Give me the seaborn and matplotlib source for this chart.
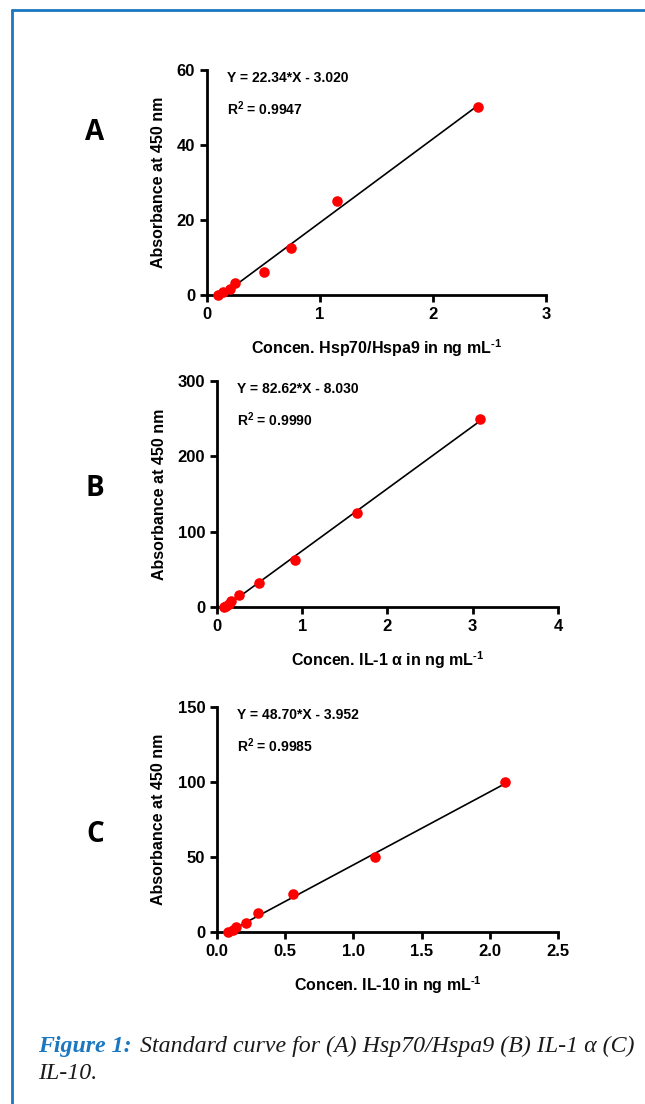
import numpy as np
import pandas as pd
import seaborn as sns
import matplotlib.pyplot as plt
from matplotlib.lines import Line2D

sns.set_style("ticks")
plt.rcParams['font.family'] = ['Liberation Sans', 'DejaVu Sans']
plt.rcParams['font.weight'] = 'bold'
plt.rcParams['text.color'] = 'black'
plt.rcParams['axes.labelcolor'] = 'black'
plt.rcParams['axes.edgecolor'] = 'black'
plt.rcParams['xtick.color'] = 'black'
plt.rcParams['ytick.color'] = 'black'
plt.rcParams['mathtext.fontset'] = 'custom'
plt.rcParams['mathtext.rm'] = 'Liberation Sans:bold'
plt.rcParams['mathtext.it'] = 'Liberation Sans:bold'
plt.rcParams['mathtext.bf'] = 'Liberation Sans:bold'

# Panel A - Hsp70/Hspa9
conc_a = [0.10, 0.14, 0.20, 0.25, 0.50, 0.74, 1.15, 2.40]
abs_a = [0, 0.78, 1.56, 3.125, 6.25, 12.5, 25, 50]
fit_a = (22.34, -3.020, "0.9947")

# Panel B - IL-1 alpha
conc_b = [0.08, 0.11, 0.14, 0.17, 0.26, 0.49, 0.91, 1.64, 3.09]
abs_b = [0, 1.95, 3.9, 7.8, 15.6, 31.25, 62.5, 125, 250]
fit_b = (82.62, -8.030, "0.9990")

# Panel C - IL-10
conc_c = [0.083, 0.115, 0.137, 0.216, 0.30, 0.56, 1.155, 2.115]
abs_c = [0, 1.56, 3.125, 6.25, 12.5, 25, 50, 100]
fit_c = (48.70, -3.952, "0.9985")

panels = [
    ("A", conc_a, abs_a, fit_a, "Concen. Hsp70/Hspa9 in ng mL$^{\\text{-1}}$",
     [0, 1, 2, 3], ["0", "1", "2", "3"], [0, 20, 40, 60],
     [0.321, 0.7328, 0.5255, 0.2038], 133),
    ("B", conc_b, abs_b, fit_b, "Concen. IL-1 α in ng mL$^{\\text{-1}}$",
     [0, 1, 2, 3, 4], ["0", "1", "2", "3", "4"], [0, 100, 200, 300],
     [0.3364, 0.4502, 0.5287, 0.2047], 488),
    ("C", conc_c, abs_c, fit_c, "Concen. IL-10 in ng mL$^{\\text{-1}}$",
     [0, 0.5, 1, 1.5, 2, 2.5], ["0.0", "0.5", "1.0", "1.5", "2.0", "2.5"],
     [0, 50, 100, 150],
     [0.3364, 0.1558, 0.5287, 0.2038], 835),
]

fig = plt.figure(figsize=(6.45, 11.04), dpi=100)

for letter, xs, ys, fit, xlab, xt, xtl, yt, rect, ly in panels:
    ax = fig.add_axes(rect)
    df = pd.DataFrame({"x": xs, "y": ys})
    slope, icpt, r2 = fit
    xr = np.array([min(xs), max(xs)])
    sns.lineplot(x=xr, y=slope * xr + icpt, color="black", lw=1.2, ax=ax)
    sns.scatterplot(data=df, x="x", y="y", color="#ff0000", s=58,
                    edgecolor="#ff0000", linewidth=0, zorder=3, ax=ax)
    ax.set_xlim(xt[0], xt[-1])
    ax.set_ylim(yt[0], yt[-1])
    ax.set_xticks(xt)
    ax.set_xticklabels(xtl)
    ax.set_yticks(yt)
    ax.tick_params(labelsize=12, width=2, length=5, direction="out")
    for s in ["left", "bottom"]:
        ax.spines[s].set_linewidth(2)
    sns.despine(ax=ax)
    ax.set_xlabel(xlab, fontsize=11.5, fontweight="bold", labelpad=11)
    ax.set_ylabel("Absorbance at 450 nm", fontsize=11.5, fontweight="bold", labelpad=8)
    for c in ax.collections:
        c.set_clip_on(False)
    ax.text(0.059, 0.965, "Y = %.2f*X - %.3f" % (slope, -icpt), transform=ax.transAxes,
            fontsize=10, fontweight="bold", va="center", ha="left")
    ax.text(0.059, 0.83, "R$^{2}$ = " + r2, transform=ax.transAxes,
            fontsize=10, fontweight="bold", va="center", ha="left")
    fig.text(95 / 645, 1 - ly / 1104, letter, fontsize=20, fontweight="bold",
             family="Open Sans", ha="center", va="center")

# blue frame
blue = "#1b77c0"
fig.add_artist(Line2D([11.5 / 645, 1], [1 - 10 / 1104, 1 - 10 / 1104], color=blue, lw=2))
fig.add_artist(Line2D([11.5 / 645, 11.5 / 645], [0, 1 - 10 / 1104], color=blue, lw=2))

# caption
fig.text(38 / 645, 1 - 1052 / 1104, "Figure 1:", family="Liberation Serif",
         style="italic", fontweight="bold", color=blue, fontsize=17.2, va="baseline")
fig.text(140 / 645, 1 - 1052 / 1104, "Standard curve for (A) Hsp70/Hspa9 (B) IL-1 α (C)",
         family="Liberation Serif", style="italic", fontweight="normal", color="#1a1a1a",
         fontsize=17.2, va="baseline")
fig.text(38 / 645, 1 - 1079 / 1104, "IL-10.", family="Liberation Serif",
         style="italic", fontweight="normal", color="#1a1a1a", fontsize=17.2, va="baseline")

fig.savefig("out.png", dpi=100)
